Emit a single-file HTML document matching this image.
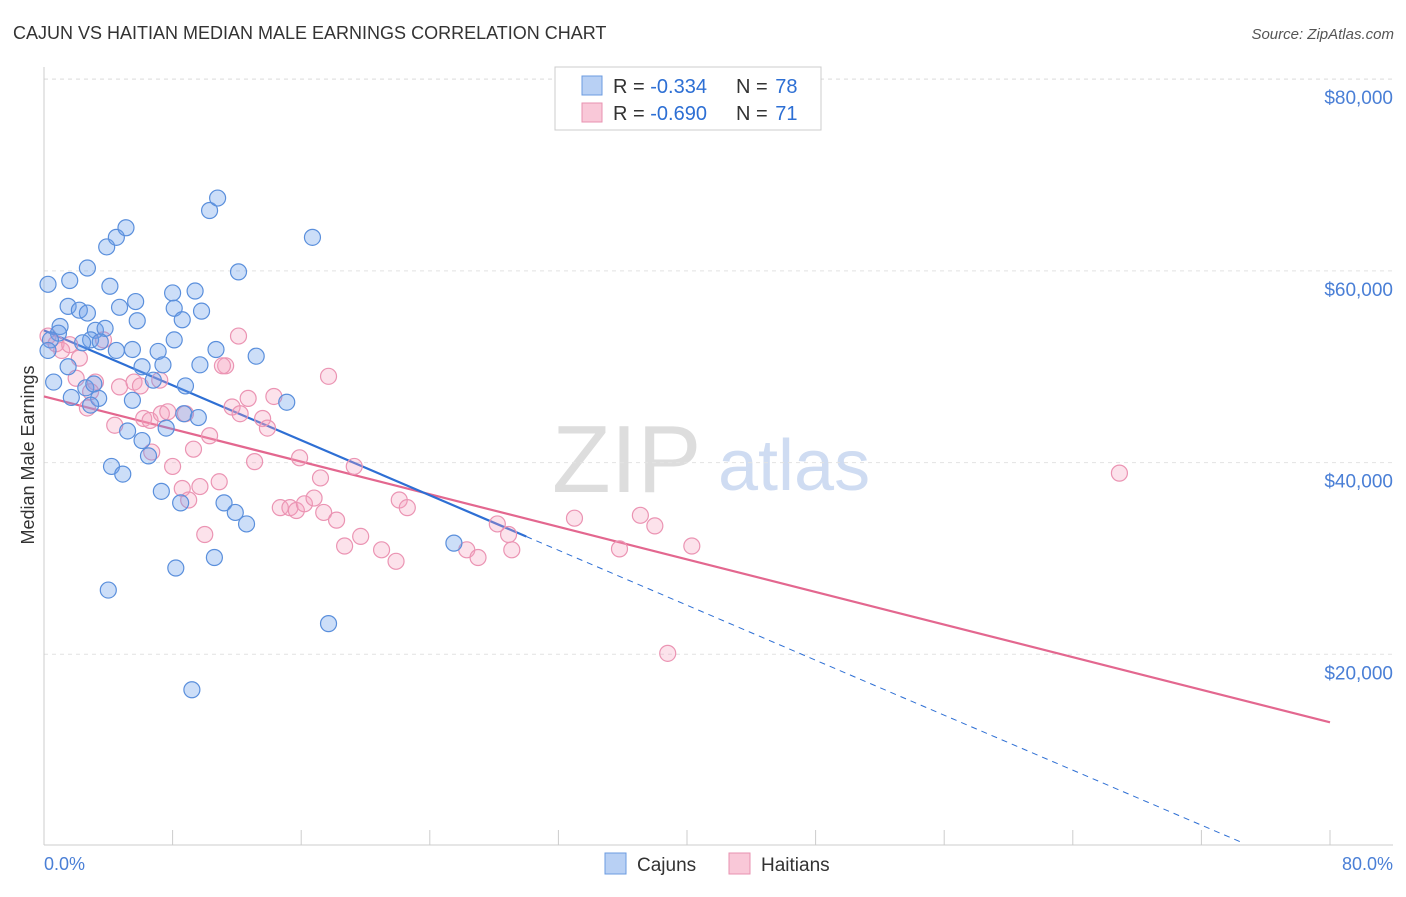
<!DOCTYPE html>
<html><head><meta charset="utf-8"><style>
body{margin:0;background:#fff;font-family:"Liberation Sans",sans-serif;}
svg text{font-family:"Liberation Sans",sans-serif;}
</style></head><body>
<svg id="chart" width="1406" height="892" viewBox="0 0 1406 892" xmlns="http://www.w3.org/2000/svg">
<text x="13" y="39" font-size="18" fill="#333">CAJUN VS HAITIAN MEDIAN MALE EARNINGS CORRELATION CHART</text>
<text x="1394" y="39" font-size="15" fill="#555" text-anchor="end" font-style="italic">Source: ZipAtlas.com</text>
<text x="552" y="492" font-size="96" fill="#ddd" font-family="Liberation Serif, serif">ZIP</text>
<text x="718" y="490" font-size="72" fill="#cfdcf2">atlas</text>
<g id="grid"></g>
<g id="axes"></g>
<g id="lines"></g>
<g id="pts"></g>
<text transform="translate(34,455) rotate(-90)" font-size="18" fill="#333" text-anchor="middle">Median Male Earnings</text>
<text x="44" y="870" font-size="18" fill="#4a7fd6">0.0%</text>
<text x="1393" y="870" font-size="18" fill="#4a7fd6" text-anchor="end">80.0%</text>
<g>
<rect x="555" y="67" width="266" height="63" fill="#fff" stroke="#ccc"/>
<rect x="582" y="76" width="20" height="19" fill="#b8d0f4" stroke="#6b9be0"/>
<rect x="582" y="103" width="20" height="19" fill="#f9c8d8" stroke="#e892b0"/>
<text x="613" y="93" font-size="20" fill="#333">R = <tspan fill="#2d6fd4">-0.334</tspan></text>
<text x="736" y="93" font-size="20" fill="#333">N = <tspan fill="#2d6fd4" dx="2">78</tspan></text>
<text x="613" y="120" font-size="20" fill="#333">R = <tspan fill="#2d6fd4">-0.690</tspan></text>
<text x="736" y="120" font-size="20" fill="#333">N = <tspan fill="#2d6fd4" dx="2">71</tspan></text>
</g>
<g>
<rect x="605" y="853" width="21" height="21" fill="#b8d0f4" stroke="#6b9be0"/>
<text x="637" y="871" font-size="19" fill="#333">Cajuns</text>
<rect x="729" y="853" width="21" height="21" fill="#f9c8d8" stroke="#e892b0"/>
<text x="761" y="871" font-size="19" fill="#333">Haitians</text>
</g>
</svg>
<script>
const yTicks=[20000,40000,60000,80000];
const yTickLabels=["$20,000","$40,000","$60,000","$80,000"];
const cajunX=[0.25,1.6,2.7,3.9,4.5,5.1,10.3,10.8,16.7,12.1,4.1,5.7,1.5,2.2,2.7,4.7,8.0,9.4,8.1,9.8,8.6,5.8,1.0,3.2,3.8,0.9,0.4,0.25,2.9,2.4,3.5,4.5,5.5,7.1,8.1,10.7,13.2,9.7,6.1,7.4,1.5,0.6,2.6,3.1,6.8,8.8,1.7,3.4,5.5,15.1,8.7,9.6,2.9,7.6,5.2,6.1,6.5,4.2,4.9,7.3,8.5,11.2,11.9,12.6,10.6,8.2,4.0,17.7,9.2,25.5];
const cajunY=[58600,59000,60300,62500,63500,64500,66300,67600,63500,59900,58400,56800,56300,55900,55600,56200,57700,57900,56100,55800,54900,54800,54200,53800,54000,53500,52800,51700,52800,52500,52600,51700,51800,51600,52800,51800,51100,50200,50000,50200,50000,48400,47800,48200,48600,48000,46800,46700,46500,46300,45100,44700,46000,43600,43300,42300,40700,39600,38800,37000,35800,35800,34800,33600,30100,29000,26700,23200,16300,31600];
const haitianX=[0.25,0.75,1.1,1.6,2.2,3.7,12.1,11.3,17.7,3.2,4.7,5.6,6.0,2.0,2.9,2.7,4.4,6.2,6.6,7.3,7.7,8.8,11.7,12.7,14.3,12.2,13.6,13.9,10.3,9.3,8.0,6.7,13.1,15.9,17.2,19.3,9.7,9.0,8.6,10.9,10.0,14.7,15.3,15.7,16.2,16.8,17.4,18.2,18.7,19.7,21.0,21.9,22.1,22.6,28.2,28.9,26.3,27.0,29.1,33.0,35.8,37.1,38.0,40.3,38.8,66.9,11.1,7.2];
const haitianY=[53200,52400,51700,52300,50900,52800,53200,50100,49000,48400,47900,48400,48000,48800,47400,45700,43900,44600,44400,45100,45300,45100,45800,46700,46900,45100,44600,43600,42800,41400,39600,41100,40100,40500,38400,39600,37500,36100,37300,38000,32500,35300,35300,35000,35700,36300,34800,34000,31300,32300,30900,29700,36100,35300,33600,32500,30900,30100,30900,34200,31000,34500,33400,31300,20100,38900,50100,48600];
const cajunTrend=[53800,-717];
const cajunSolidEnd=30;
const cajunDashEnd=74.4;
const haitianTrend=[46900,-425];
const haitianEnd=80;

const X0=44,X1=1330,Y0=846,PX_PER=191.7/20000;
const sx=v=>X0+(v/80)*(X1-X0);
const sy=v=>Y0-v*PX_PER;
const NS="http://www.w3.org/2000/svg";
function mk(tag,attrs,parent){const e=document.createElementNS(NS,tag);for(const k in attrs)e.setAttribute(k,attrs[k]);parent.appendChild(e);return e;}
const gridG=document.getElementById('grid'),axesG=document.getElementById('axes'),linesG=document.getElementById('lines'),ptsG=document.getElementById('pts');
yTicks.forEach((t,i)=>{
  const l=mk('line',{x1:X0,x2:1393,y1:sy(t),y2:sy(t),stroke:'#e2e2e2','stroke-dasharray':'4,4'},gridG);
  
  
  const tx=mk('text',{x:1393,y:sy(t)+25,'font-size':19,fill:'#4a7fd6','text-anchor':'end'},gridG);
  tx.textContent=yTickLabels[i];
  
  
});
const topGrid=mk('line',{x1:X0,x2:1393,y1:79,y2:79,stroke:'#e2e2e2','stroke-dasharray':'4,4'},gridG);


const xa=mk('line',{x1:X0,x2:1393,y1:845,y2:845,stroke:'#ccc'},axesG);


const ya=mk('line',{x1:X0,x2:X0,y1:67,y2:845,stroke:'#ccc'},axesG);


for(let p=0;p<=80;p+=8){
  const t=mk('line',{x1:sx(p),x2:sx(p),y1:830,y2:845,stroke:'#ccc'},axesG);
  
  
}
function draw(xs,ys,fill,stroke,name){
  xs.forEach((x,i)=>{
    const c=mk('circle',{cx:sx(x),cy:sy(ys[i]),r:8,fill:fill,stroke:stroke,'stroke-width':1.2},ptsG);
    
    
  });
}
draw(haitianX,haitianY,'rgba(244,160,190,0.3)','#eb94b3','haitian-point');
draw(cajunX,cajunY,'rgba(110,160,235,0.35)','#5a8fdc','cajun-point');
const tl=(tr,x)=>tr[0]+tr[1]*x;
const hl=mk('line',{x1:sx(0),y1:sy(tl(haitianTrend,0)),x2:sx(haitianEnd),y2:sy(tl(haitianTrend,haitianEnd)),stroke:'#e3678f','stroke-width':2.2},linesG);


const cl=mk('line',{x1:sx(0),y1:sy(tl(cajunTrend,0)),x2:sx(cajunSolidEnd),y2:sy(tl(cajunTrend,cajunSolidEnd)),stroke:'#2e6fd4','stroke-width':2.2},linesG);


const cd=mk('line',{x1:sx(cajunSolidEnd),y1:sy(tl(cajunTrend,cajunSolidEnd)),x2:sx(cajunDashEnd),y2:sy(tl(cajunTrend,cajunDashEnd)),stroke:'#2e6fd4','stroke-width':1,'stroke-dasharray':'6,5'},linesG);


</script>
</body></html>
